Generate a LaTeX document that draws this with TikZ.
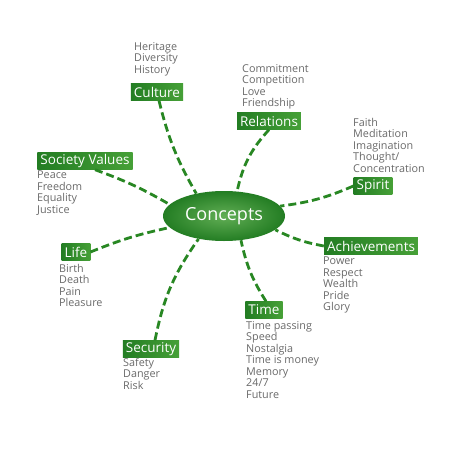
\documentclass[tikz,border=0pt]{standalone}
\usepackage{fontspec}
\setmainfont{Open Sans}
\usetikzlibrary{shapes.geometric}
\definecolor{boxgreen}{RGB}{35,125,35}
\definecolor{boxlight}{RGB}{70,160,55}
\definecolor{linegreen}{RGB}{40,135,35}
\definecolor{txtgray}{RGB}{105,105,105}
\begin{document}
\begin{tikzpicture}[x=1pt,y=-1pt,
  tag/.style={left color=boxgreen,right color=boxlight,text=white,inner xsep=3pt,inner ysep=0pt,minimum height=17pt,font=\fontsize{13.5}{14}\selectfont},
  items/.style={anchor=north west,inner sep=0pt,align=left,text=txtgray,font=\fontsize{10.8}{11.5}\selectfont},
  link/.style={draw=linegreen,line width=2.8pt,dash pattern=on 8pt off 4pt}]
\useasboundingbox (0,0) rectangle (450,450);
\node[ellipse,inner color=boxlight!85!white,outer color=boxgreen,minimum width=122pt,minimum height=50pt,text=white,font=\fontsize{18}{19}\selectfont] (c) at (224,216) {Concepts};

\node[tag] (cul) at (157,92) {Culture};
\node[tag] (rel) at (269,121) {Relations};
\node[tag] (spi) at (373,186) {Spirit};
\node[tag] (soc) at (85,161) {Society Values};
\node[tag] (ach) at (371,246) {Achievements};
\node[tag] (lif) at (76,252) {Life};
\node[tag] (tim) at (264,310) {Time};
\node[tag] (sec) at (151,349) {Security};

\node[items] (culi) at (134,42) {Heritage\\Diversity\\History};
\node[items] (reli) at (242,64) {Commitment\\Competition\\Love\\Friendship};
\node[items] (spii) at (353,118) {Faith\\Meditation\\Imagination\\Thought/\\Concentration};
\node[items] (soci) at (37,171) {Peace\\Freedom\\Equality\\Justice};
\node[items] (achi) at (323,257) {Power\\Respect\\Wealth\\Pride\\Glory};
\node[items] (lifi) at (59,264) {Birth\\Death\\Pain\\Pleasure};
\node[items] (timi) at (246,321) {Time passing\\Speed\\Nostalgia\\Time is money\\Memory\\24/7\\Future};
\node[items] (seci) at (123,358) {Safety\\Danger\\Risk};

\draw[link] ([xshift=2pt]cul.south) to[bend right=8] (c.141);
\draw[link] (rel.south) to[bend right=15] (c.62);
\draw[link] (spi.west) to[bend left=8] (c.10);
\draw[link] ([xshift=10pt]soc.south) to[bend left=5] (c.168);
\draw[link] (lif.east) to[bend left=5] (c.192);
\draw[link] (ach.west) to[bend left=8] (c.-15);
\draw[link] ([xshift=2pt]tim.north) to[bend left=10] (c.-55);
\draw[link] ([xshift=4pt]sec.north) to[bend left=12] (c.222);
\end{tikzpicture}
\end{document}
